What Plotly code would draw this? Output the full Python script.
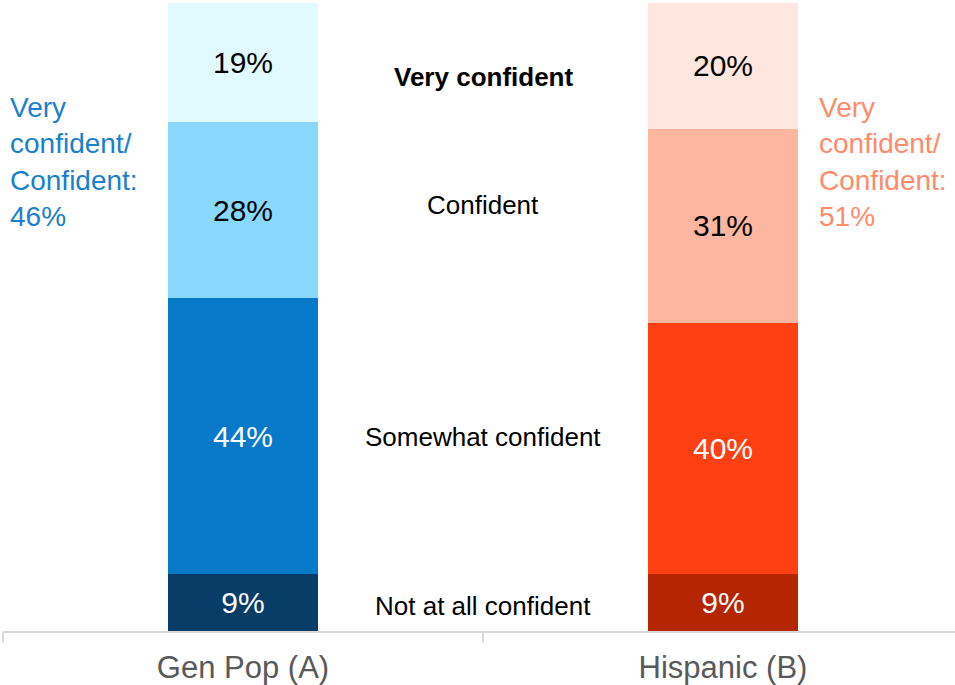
import plotly.graph_objects as go

categories = ["Gen Pop (A)", "Hispanic (B)"]
levels = ["Not at all confident", "Somewhat confident", "Confident", "Very confident"]
not_at_all = [9, 9]
somewhat = [44, 40]
confident = [28, 31]
very_confident = [19, 20]
top2_box = [46, 51]

series = [not_at_all, somewhat, confident, very_confident]

colors = [
    ["#083D67", "#B52600"],
    ["#0679C9", "#FF4013"],
    ["#8AD8FF", "#FFB6A1"],
    ["#E0FAFF", "#FFE6DF"],
]
text_colors = ["white", "white", "black", "black"]

FONT = "Liberation Sans, Arial, sans-serif"

fig = go.Figure()
xpos = list(range(len(categories)))
for lvl, vals, col, tc in zip(levels, series, colors, text_colors):
    fig.add_trace(go.Bar(
        x=xpos, y=vals, name=lvl,
        marker=dict(color=col, line=dict(width=0)),
        width=0.3125,
        texttemplate="%{y}%",
        textposition="inside",
        insidetextanchor="middle",
        constraintext="none",
        textfont=dict(color=tc, size=30, family=FONT),
        hoverinfo="skip",
    ))

# middle level labels (positions in data units)
label_y = [4.0, 30.9, 67.8, 88.2]
for lvl, yv in zip(levels, label_y):
    txt = f"<b>{lvl}</b>" if lvl == "Very confident" else lvl
    fig.add_annotation(x=0.5, y=yv, xref="x", yref="y", text=txt, showarrow=False,
                       xanchor="center", yanchor="middle",
                       font=dict(size=26, color="black", family=FONT))

# side summaries
side_x = [-0.49, 1.196]
side_col = ["#1A80CC", "#FF8B6B"]
for sx, v, c in zip(side_x, top2_box, side_col):
    fig.add_annotation(x=sx, y=74.7, xref="x", yref="y",
                       text=f"Very<br>confident/<br>Confident:<br>{v}%",
                       showarrow=False, xanchor="left", yanchor="middle", align="left",
                       font=dict(size=28, color=c, family=FONT))

fig.update_layout(
    barmode="stack",
    width=955, height=685,
    margin=dict(l=3, r=0, t=3, b=54),
    paper_bgcolor="white", plot_bgcolor="white",
    showlegend=False,
    font=dict(family=FONT),
    xaxis=dict(
        range=[-0.5, 1 + 232 / 480],
        tickvals=xpos, ticktext=categories,
        ticks="", showgrid=False, zeroline=False,
        showline=True, linecolor="#D9D9D9", linewidth=2,
        tickfont=dict(size=31, color="#595959", family=FONT),
        ticklabelstandoff=8,
        minor=dict(tickvals=[-0.5, 0.5, 1.5], ticks="outside", ticklen=10,
                   tickcolor="#D9D9D9", tickwidth=2, showgrid=False),
        automargin=False,
    ),
    yaxis=dict(range=[0, 100], visible=False),
)

fig.write_html("out.html")
